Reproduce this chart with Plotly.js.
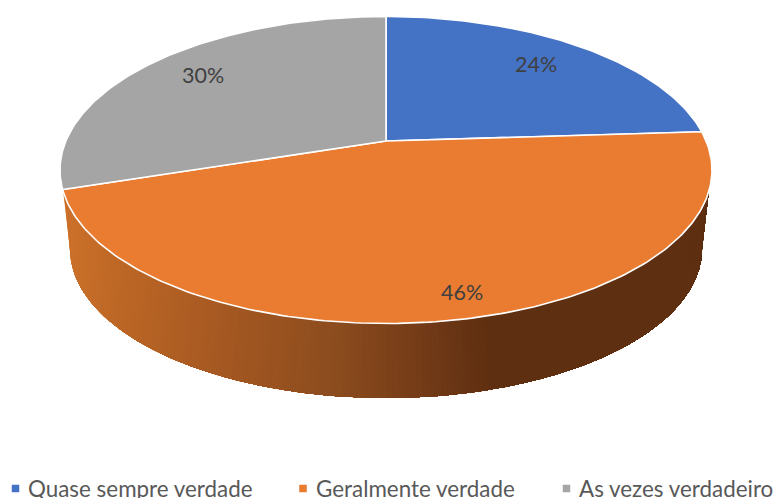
<!DOCTYPE html>
<html>
<head>
<meta charset="utf-8">
<script src="https://cdn.plot.ly/plotly-3.0.1.min.js"></script>
<style>html,body{margin:0;padding:0;background:#fff;overflow:hidden}#chart{width:774px;height:498px}</style>
</head>
<body>
<div id="chart"></div>
<script>
// Data
const categories = ["Quase sempre verdade", "Geralmente verdade", "As vezes verdadeiro"];
const values = [24, 46, 30];
const sliceColors = ["#4472C4", "#E97C30", "#A5A5A5"];

// Label / legend placement (pixel-mapped axes)
const labelX = [536, 462, 203];
const labelY = [64, 292, 75];
const legendMarkerX = [15.5, 303, 566.5];
const legendTextX = [26, 314, 577];
const legendY = 488.5;

// Side shading: [x, r, g, b]
const sideStops = [[63,204,113,42],[133,186,101,37],[233,163,87,33],[333,140,76,30],[433,111,56,22],[483,94,47,17],[774,94,47,17]];

// Projection of the pie disc
const top_ = {cx:386, cy:170, rx:326, ry:153.5};
const bot_ = {cx:386, cy:249, rx:316, ry:149};
const v0 = (top_.cy - 141) / top_.ry;

function projFraction(f){
  const a = 2*Math.PI*f, X = Math.sin(a), Y = Math.cos(a), d = 1 + v0*Y;
  return [top_.cx + top_.rx*X*Math.sqrt(1-v0*v0)/d, top_.cy - top_.ry*(Y+v0)/d];
}
const apex = [top_.cx, top_.cy - top_.ry*v0];
const onEllipse = (e, deg) => [e.cx + e.rx*Math.sin(deg*Math.PI/180), e.cy - e.ry*Math.cos(deg*Math.PI/180)];
function sideColor(x){
  for(let i=1;i<sideStops.length;i++){
    const a=sideStops[i-1], b=sideStops[i];
    if(x<=b[0]){
      const k=Math.max(0,(x-a[0])/(b[0]-a[0]));
      return `rgb(${[1,2,3].map(j=>Math.round(a[j]+(b[j]-a[j])*k)).join(",")})`;
    }
  }
  return "rgb(94,47,17)";
}

const traces = [];
// Extruded side, painted left to right with overlap so no seams show
const tStart = 262, tEnd = 98, strips = 160;
const botParam = t => 180 + (t-180)*(90/82);
for(let i=0;i<strips;i++){
  const t0 = tStart - (tStart-tEnd)*i/strips;
  const xs=[], ys=[];
  const n = strips - i;
  for(let k=0;k<=n;k++){ const t=t0-(tStart-tEnd)*k/strips; const p=onEllipse(top_,t); xs.push(p[0]); ys.push(p[1]); }
  for(let k=n;k>=0;k--){ const t=t0-(tStart-tEnd)*k/strips; const p=onEllipse(bot_,botParam(t)); xs.push(p[0]); ys.push(p[1]); }
  traces.push({type:"scatter",mode:"lines",x:xs,y:ys,fill:"toself",fillcolor:sideColor(onEllipse(top_,t0)[0]),
    line:{width:0},hoverinfo:"skip",showlegend:false});
}
// Top-face wedges
const total = values.reduce((a,b)=>a+b,0);
let acc = 0;
values.forEach((v,i)=>{
  const f0=acc/total, f1=(acc+v)/total; acc+=v;
  const xs=[apex[0]], ys=[apex[1]];
  const steps=Math.max(40,Math.round(v*4));
  for(let k=0;k<=steps;k++){ const p=projFraction(f0+(f1-f0)*k/steps); xs.push(p[0]); ys.push(p[1]); }
  xs.push(apex[0]); ys.push(apex[1]);
  traces.push({type:"scatter",mode:"lines",name:categories[i],x:xs,y:ys,fill:"toself",fillcolor:sliceColors[i],
    line:{color:"#FFFFFF",width:1.6},hoverinfo:"name",showlegend:false});
});
// Legend markers
categories.forEach((c,i)=>{
  traces.push({type:"scatter",mode:"markers",name:c,x:[legendMarkerX[i]],y:[legendY],
    marker:{symbol:"square",size:7.5,color:sliceColors[i]},hoverinfo:"name",showlegend:false,cliponaxis:false});
});

const annotations = [];
values.forEach((v,i)=>annotations.push({xref:"x",yref:"y",x:labelX[i],y:labelY[i],text:v+"%",showarrow:false,
  font:{family:"Lato, 'Open Sans', sans-serif",size:21.5,color:"#404040"},xanchor:"center",yanchor:"middle"}));
categories.forEach((c,i)=>annotations.push({xref:"x",yref:"y",x:legendTextX[i],y:legendY,text:c,showarrow:false,
  font:{family:"Lato, 'Open Sans', sans-serif",size:22.4,color:"#595959"},xanchor:"left",yanchor:"middle"}));

const layout = {
  width:774,height:498,margin:{l:0,r:0,t:0,b:0},paper_bgcolor:"#fff",plot_bgcolor:"#fff",showlegend:false,
  xaxis:{range:[0,774],visible:false,fixedrange:true},
  yaxis:{range:[498,0],visible:false,fixedrange:true},
  annotations:annotations
};
Plotly.newPlot("chart",traces,layout,{displayModeBar:false,staticPlot:true});
</script>
</body>
</html>
